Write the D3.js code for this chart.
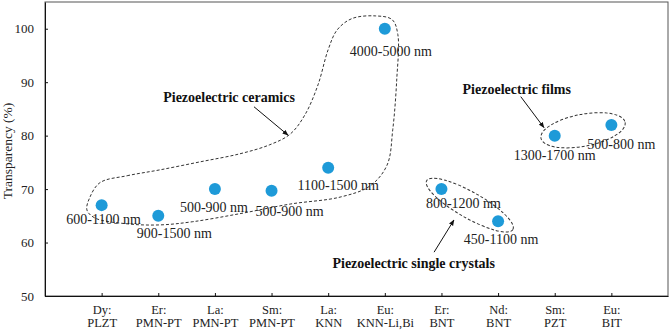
<!DOCTYPE html>
<html>
<head>
<meta charset="utf-8">
<script src="https://cdn.jsdelivr.net/npm/d3@7"></script>
<style>
  body { margin: 0; background: #fff; }
  svg text { font-family: "Liberation Serif", "Times New Roman", "DejaVu Serif", serif; }
</style>
</head>
<body>
<div id="chart"></div>
<script>
// doping ion and host material of each sample
const dopants = ["Dy", "Er", "La", "Sm", "La", "Eu", "Er", "Nd", "Sm", "Eu"];
const hosts = ["PLZT", "PMN-PT", "PMN-PT", "PMN-PT", "KNN", "KNN-Li,Bi", "BNT", "BNT", "PZT", "BIT"];
const transparency = [67, 65, 70, 69.7, 74, 100, 70, 64, 80, 82];
const thickness = ["600-1100 nm", "900-1500 nm", "500-900 nm", "500-900 nm", "1100-1500 nm",
                   "4000-5000 nm", "800-1200 nm", "450-1100 nm", "1300-1700 nm", "500-800 nm"];
const yTicks = [50, 60, 70, 80, 90, 100];

// label offsets (px) from each dot
var labelOffsets = [[2, 19], [16, 22], [-1, 23], [18, 25], [10, 22], [6, 27], [22, 19], [3, 23], [0, 24], [10, 24]];

var serif = "Liberation Serif, Times New Roman, serif";
var width = 671, height = 332;
var margin = {top: 2, right: 3, bottom: 36, left: 45};

var svg = d3.select("#chart").append("svg")
    .attr("width", width)
    .attr("height", height)
    .attr("font-family", serif);

var x = d3.scaleLinear()
    .domain([0, dopants.length + 1])
    .range([margin.left, width - margin.right]);

var y = d3.scaleLinear()
    .domain([50, 105])
    .range([height - margin.bottom, margin.top]);

// frame
svg.append("rect")
    .attr("x", x(0))
    .attr("y", y(105))
    .attr("width", x(11) - x(0))
    .attr("height", y(50) - y(105))
    .attr("fill", "none")
    .attr("stroke", "#555")
    .attr("stroke-width", 1);

var yAxis = svg.append("g")
    .attr("transform", `translate(${x(0)},0)`)
    .call(d3.axisLeft(y).tickValues(yTicks).tickSizeInner(-3).tickSizeOuter(0).tickPadding(11))
    .attr("font-family", serif);
yAxis.selectAll("text").style("font-size", "13px").attr("fill", "#222");
yAxis.selectAll("line, path").attr("stroke", "#111");

var xAxis = svg.append("g")
    .attr("transform", `translate(0,${y(50)})`)
    .call(d3.axisBottom(x).tickValues(d3.range(1, dopants.length + 1)).tickSizeInner(-3).tickSizeOuter(0))
    .attr("font-family", serif);
xAxis.selectAll("line, path").attr("stroke", "#111");
xAxis.selectAll("text").each(function(d) {
    var t = d3.select(this).text(null).attr("y", 18).attr("dy", null)
        .style("font-size", "12.5px").attr("fill", "#222");
    t.append("tspan").attr("x", 0).text(dopants[d - 1] + ":");
    t.append("tspan").attr("x", 0).attr("dy", 13).text(hosts[d - 1]);
});

svg.append("text")
    .attr("transform", `translate(12,${(y(50) + y(105)) / 2 + 2}) rotate(-90)`)
    .attr("text-anchor", "middle")
    .style("font-size", "13.5px")
    .attr("fill", "#222")
    .text("Transparency (%)");

// group outlines (data coordinates)
var ceramicsOutline = [
    [0.97, 71.2], [1.45, 72.5], [2.03, 73.6], [2.74, 75.1], [3.44, 76.6], [3.97, 78.3],
    [4.33, 80.3], [4.59, 83.9], [4.82, 89.5], [5.00, 96.1], [5.16, 99.8], [5.42, 101.9],
    [5.83, 102.4], [6.13, 101.7], [6.23, 98.9], [6.21, 90.4], [6.14, 81.1], [6.04, 74.5],
    [5.74, 70.6], [5.21, 68.5], [4.33, 67.2], [3.44, 65.4], [2.61, 63.9], [2.03, 63.3],
    [1.45, 63.5], [0.88, 64.6], [0.74, 66.1], [0.79, 68.4]
];

var dashed = "3,2";
var outlineLine = d3.line()
    .x(function(d) { return x(d[0]); })
    .y(function(d) { return y(d[1]); })
    .curve(d3.curveCatmullRomClosed.alpha(0.5));

svg.append("path")
    .attr("d", outlineLine(ceramicsOutline))
    .attr("fill", "none")
    .attr("stroke", "#333")
    .attr("stroke-dasharray", dashed);

// ellipses around two dots
function ringAround(i, j, pad, ry) {
    var x1 = x(i + 1), y1 = y(transparency[i]);
    var x2 = x(j + 1), y2 = y(transparency[j]);
    var cx = (x1 + x2) / 2, cy = (y1 + y2) / 2;
    var ang = Math.atan2(y2 - y1, x2 - x1) * 180 / Math.PI;
    var rx = Math.hypot(x2 - x1, y2 - y1) / 2 + pad;
    svg.append("ellipse")
        .attr("transform", `translate(${cx},${cy}) rotate(${ang})`)
        .attr("rx", rx)
        .attr("ry", ry)
        .attr("fill", "none")
        .attr("stroke", "#333")
        .attr("stroke-dasharray", dashed);
}
ringAround(6, 7, 17, 13);
ringAround(8, 9, 14, 16);

// dots
svg.selectAll("circle.dot")
    .data(transparency)
    .enter()
    .append("circle")
    .attr("class", "dot")
    .attr("cx", function(d, i) { return x(i + 1); })
    .attr("cy", function(d) { return y(d); })
    .attr("r", 6)
    .attr("fill", "#1e9ad8");

svg.selectAll("text.lbl")
    .data(thickness)
    .enter()
    .append("text")
    .attr("class", "lbl")
    .attr("x", function(d, i) { return x(i + 1) + labelOffsets[i][0]; })
    .attr("y", function(d, i) { return y(transparency[i]) + labelOffsets[i][1]; })
    .attr("text-anchor", "middle")
    .style("font-size", "14px")
    .attr("fill", "#222")
    .text(function(d) { return d; });

// group annotations
var groups = [
    {name: "Piezoelectric ceramics", tx: 3.25, ty: 86.3, from: [3.69, 85.4], to: [4.29, 80.1]},
    {name: "Piezoelectric films", tx: 8.33, ty: 87.8, from: [8.40, 87.3], to: [8.81, 81.5]},
    {name: "Piezoelectric single crystals", tx: 6.51, ty: 55.2, from: [6.87, 58.2], to: [7.22, 64.2]}
];

svg.append("defs").append("marker")
    .attr("id", "arrow")
    .attr("viewBox", "0 0 10 10")
    .attr("refX", 9)
    .attr("refY", 5)
    .attr("markerWidth", 6)
    .attr("markerHeight", 6)
    .attr("orient", "auto")
    .append("path")
    .attr("d", "M0,1 L10,5 L0,9 z")
    .attr("fill", "#111");

groups.forEach(function(g) {
    svg.append("text")
        .attr("x", x(g.tx))
        .attr("y", y(g.ty))
        .attr("text-anchor", "middle")
        .style("font-size", "14px")
        .style("font-weight", "bold")
        .attr("fill", "#111")
        .text(g.name);
    svg.append("line")
        .attr("x1", x(g.from[0])).attr("y1", y(g.from[1]))
        .attr("x2", x(g.to[0])).attr("y2", y(g.to[1]))
        .attr("stroke", "#111")
        .attr("stroke-width", 1)
        .attr("marker-end", "url(#arrow)");
});
</script>
</body>
</html>
